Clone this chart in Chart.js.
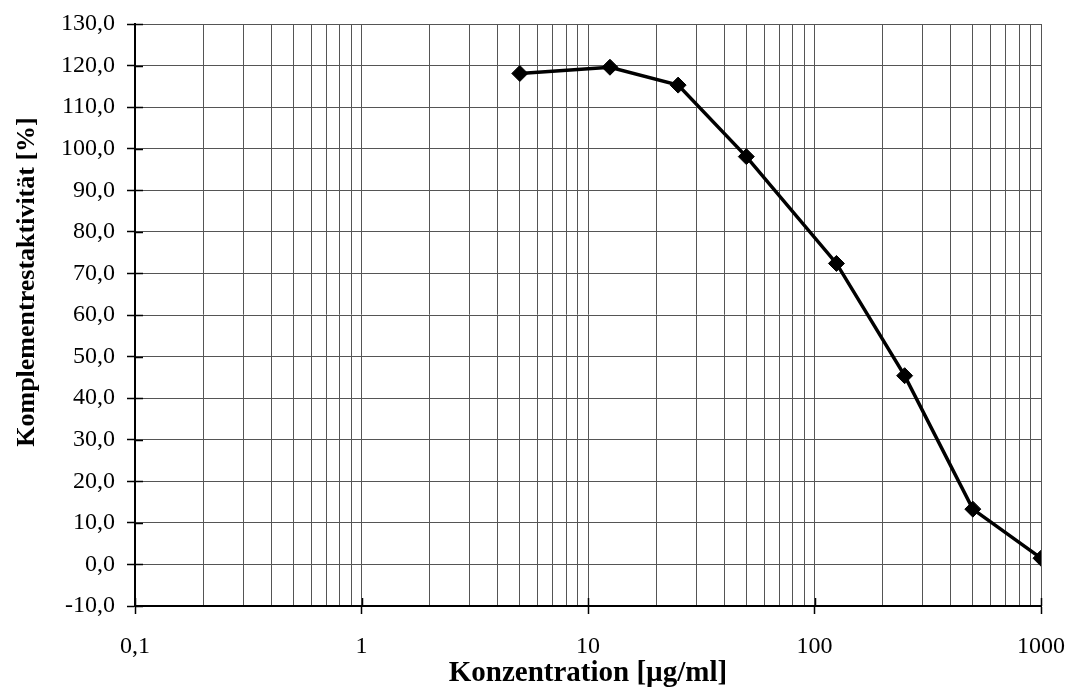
<!DOCTYPE html>
<html>
<head>
<meta charset="utf-8">
<script src="https://cdn.jsdelivr.net/npm/chart.js@4/dist/chart.umd.min.js"></script>
<style>
  html, body { margin: 0; padding: 0; background: #fff; }
  #wrap { width: 1068px; height: 695px; }
</style>
</head>
<body>
<div id="wrap"><canvas id="c" width="1068" height="695"></canvas></div>
<script>
// ---- data ----
const concentrations = [5, 12.5, 25, 50, 125, 250, 500, 1000];
const activity = [118.1, 119.6, 115.3, 98.1, 72.4, 45.4, 13.3, 1.5];
const xDecades = [0.1, 1, 10, 100, 1000];
const xTickLabels = ['0,1', '1', '10', '100', '1000'];
const yMin = -10, yMax = 130, yStep = 10;
const xTitle = 'Konzentration [µg/ml]';
const yTitle = 'Komplementrestaktivität [%]';

const FONT = '"Liberation Serif", "Times New Roman", serif';

// grid values: 1..9 x each decade (log grid)
const xGridValues = [];
xDecades.forEach((d, i) => {
  if (i === xDecades.length - 1) { xGridValues.push(d); return; }
  for (let k = 1; k <= 9; k++) xGridValues.push(parseFloat((d * k).toPrecision(6)));
});
const isDecade = v => xDecades.some(d => Math.abs(d - v) / d < 1e-6);
const decadeLabel = v => {
  const i = xDecades.findIndex(d => Math.abs(d - v) / d < 1e-6);
  return i >= 0 ? xTickLabels[i] : '';
};

const PLOT = { left: 135, top: 24, right: 1041, bottom: 606 };

const innerTicks = {
  id: 'innerTicks',
  afterDraw(chart) {
    const ctx = chart.ctx;
    const xs = chart.scales.x, ys = chart.scales.y;
    ctx.save();
    ctx.strokeStyle = '#000';
    ctx.lineWidth = 1.5;
    ctx.beginPath();
    ys.ticks.forEach(t => {
      const y = Math.round(ys.getPixelForValue(t.value)) + 0.5;
      ctx.moveTo(xs.left, y); ctx.lineTo(xs.left + 8, y);
    });
    xDecades.forEach(v => {
      const x = Math.round(xs.getPixelForValue(v)) + 0.5;
      ctx.moveTo(x, ys.bottom); ctx.lineTo(x, ys.bottom - 8);
    });
    ctx.stroke();
    // y axis title
    ctx.fillStyle = '#000';
    ctx.font = 'bold 26px ' + FONT;
    ctx.textAlign = 'center';
    ctx.textBaseline = 'middle';
    ctx.translate(27, 282);
    ctx.rotate(-Math.PI / 2);
    ctx.fillText(yTitle, 0, 0);
    ctx.restore();
  }
};

new Chart(document.getElementById('c'), {
  type: 'line',
  data: {
    datasets: [{
      data: concentrations.map((x, i) => ({ x, y: activity[i] })),
      borderColor: '#000',
      backgroundColor: '#000',
      borderWidth: 3.5,
      tension: 0,
      pointStyle: 'rectRot',
      pointRadius: 8,
      pointHoverRadius: 8,
      pointBorderWidth: 1,
      pointBorderColor: '#000',
      pointBackgroundColor: '#000'
    }]
  },
  options: {
    responsive: false,
    animation: false,
    devicePixelRatio: 1,
    layout: { padding: { left: 0, top: PLOT.top, right: 1068 - PLOT.right, bottom: 0 } },
    plugins: { legend: { display: false }, tooltip: { enabled: false }, title: { display: false } },
    scales: {
      x: {
        type: 'logarithmic',
        min: 0.1, max: 1000,
        afterBuildTicks: scale => {
          scale.ticks = xGridValues.map(v => ({ value: v, major: isDecade(v) }));
        },
        afterFit: scale => {
          scale.height = 695 - PLOT.bottom;
          scale.paddingLeft = 0; scale.paddingRight = 0;
        },
        ticks: {
          autoSkip: false, maxRotation: 0, minRotation: 0,
          padding: 18,
          color: '#000',
          font: { family: FONT, size: 24 },
          callback: v => decadeLabel(v)
        },
        grid: {
          color: '#555',
          lineWidth: 1,
          tickLength: 8,
          tickWidth: 1.5,
          tickColor: ctx => (ctx.tick && isDecade(ctx.tick.value)) ? '#000' : 'rgba(0,0,0,0)'
        },
        border: { display: true, color: '#000', width: 2 },
        title: {
          display: true, text: xTitle, color: '#000',
          font: { family: FONT, size: 29, weight: 'bold' },
          padding: { top: 0, bottom: 4 }
        }
      },
      y: {
        min: yMin, max: yMax,
        afterFit: scale => {
          scale.width = PLOT.left;
          scale.paddingTop = 0; scale.paddingBottom = 0;
        },
        ticks: {
          stepSize: yStep,
          padding: 12,
          color: '#000',
          font: { family: FONT, size: 24 },
          callback: v => v.toFixed(1).replace('.', ',')
        },
        grid: { color: '#555', lineWidth: 1, tickLength: 8, tickColor: '#000', tickWidth: 1.5 },
        border: { display: true, color: '#000', width: 2 },
        title: { display: false }
      }
    }
  },
  plugins: [innerTicks]
});
</script>
</body>
</html>
